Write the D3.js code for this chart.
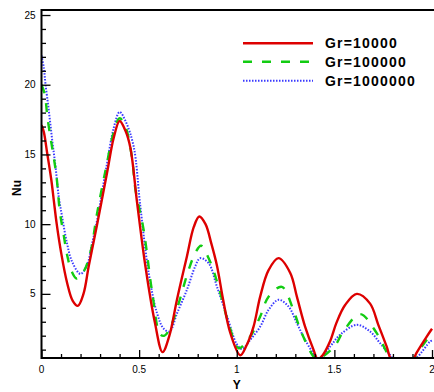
<!DOCTYPE html>
<html>
<head>
<meta charset="utf-8">
<script src="https://cdn.jsdelivr.net/npm/d3@7"></script>
<style>
  html, body { margin: 0; padding: 0; background: #fff; }
  svg { display: block; font-family: Arial, "Liberation Sans", sans-serif; }
</style>
</head>
<body>
<div id="chart"></div>
<script>
// series labels
const seriesNames = ["Gr=10000", "Gr=100000", "Gr=1000000"];

// Gr=10000
const yRed = [0, 0.012, 0.029, 0.05, 0.063, 0.078, 0.1, 0.131, 0.16, 0.186, 0.215, 0.242, 0.285, 0.336, 0.37, 0.40, 0.43, 0.455, 0.49, 0.532, 0.58, 0.62, 0.655, 0.694, 0.745, 0.78, 0.808, 0.84, 0.87, 0.899, 0.93, 0.967, 1.018, 1.05, 1.086, 1.12, 1.163, 1.214, 1.274, 1.308, 1.35, 1.393, 1.415, 1.44, 1.478, 1.51, 1.555, 1.615, 1.683, 1.725, 1.768, 1.795, 1.85, 1.9, 1.92, 1.973, 2.0];
const nuRed = [17.1, 16.6, 15.1, 13.2, 11.7, 10.0, 8.0, 5.8, 4.5, 4.14, 5.0, 7.0, 10.0, 13.7, 16.2, 17.4, 16.7, 15.5, 11.5, 7.0, 3.0, 0.82, 2.0, 4.6, 7.7, 9.8, 10.55, 10.0, 8.6, 7.0, 4.6, 2.2, 0.6, 1.3, 2.65, 4.8, 6.7, 7.56, 6.5, 4.8, 2.65, 1.0, 0.3, 0.6, 1.6, 2.9, 4.2, 5.0, 4.3, 2.78, 1.22, 0.2, 0, 0.2, 0.75, 1.94, 2.5];

// Gr=100000
const yGreen = [0, 0.017, 0.03, 0.045, 0.058, 0.077, 0.094, 0.114, 0.131, 0.155, 0.18, 0.216, 0.251, 0.285, 0.33, 0.37, 0.40, 0.43, 0.464, 0.481, 0.523, 0.566, 0.608, 0.63, 0.66, 0.702, 0.753, 0.79, 0.817, 0.864, 0.907, 0.958, 1.01, 1.069, 1.12, 1.163, 1.231, 1.29, 1.333, 1.41, 1.45, 1.504, 1.546, 1.632, 1.717, 1.776, 1.8, 1.85, 1.9, 1.913, 1.973, 2.0];
const nuGreen = [20.0, 19.3, 17.7, 16.3, 15.2, 13.4, 10.9, 9.2, 7.8, 6.6, 6.1, 6.6, 8.0, 10.8, 14.0, 16.6, 17.6, 17.0, 14.7, 12.5, 9.6, 5.2, 2.1, 2.0, 2.6, 4.3, 6.7, 8.0, 8.45, 7.3, 5.5, 2.9, 1.1, 1.94, 3.37, 4.8, 5.5, 3.85, 2.18, 0.3, 0.6, 1.3, 2.3, 3.55, 2.18, 0.62, 0.2, 0, 0.2, 0.5, 1.7, 2.1];

// Gr=1000000
const yBlue = [0, 0.012, 0.02, 0.037, 0.055, 0.072, 0.088, 0.106, 0.131, 0.157, 0.2, 0.234, 0.259, 0.285, 0.33, 0.37, 0.40, 0.43, 0.472, 0.506, 0.549, 0.592, 0.626, 0.656, 0.694, 0.745, 0.788, 0.813, 0.856, 0.899, 0.95, 1.0, 1.027, 1.069, 1.12, 1.163, 1.214, 1.265, 1.308, 1.35, 1.4, 1.42, 1.478, 1.529, 1.615, 1.683, 1.734, 1.785, 1.81, 1.87, 1.92, 1.99, 2.0];
const nuBlue = [22.1, 21.2, 20.1, 18.2, 16.0, 14.1, 12.0, 10.5, 8.6, 7.3, 6.43, 7.1, 8.6, 10.3, 13.9, 16.9, 18.05, 17.4, 15.57, 11.3, 6.5, 3.6, 2.5, 2.3, 3.6, 5.3, 7.0, 7.56, 7.2, 5.5, 3.4, 1.4, 1.05, 1.7, 2.65, 3.85, 4.57, 4.1, 2.9, 1.7, 0.6, 0.35, 1.22, 2.06, 2.78, 2.3, 1.46, 0.62, 0.2, 0, 0.4, 1.58, 1.65];

// axis ticks
const xMajor = [0, 0.5, 1, 1.5, 2];
const yMajor = [5, 10, 15, 20, 25];

const W = 434, H = 392;
const plotL = 41.5, plotR = 432, plotT = 10, plotB = 358;

const svg = d3.select("#chart").append("svg")
    .attr("width", W)
    .attr("height", H);

const x = d3.scaleLinear().domain([0, 2]).range([plotL, plotR]);
const y = d3.scaleLinear().domain([0.4, 25.36]).range([plotB, plotT]);

svg.append("clipPath").attr("id", "plot-clip")
   .append("rect")
   .attr("x", plotL).attr("y", plotT)
   .attr("width", W - plotL).attr("height", plotB - plotT);

const series = [
    { name: seriesNames[0], xs: yRed, ys: nuRed, color: "#dd0000", width: 2.4, dash: null },
    { name: seriesNames[1], xs: yGreen, ys: nuGreen, color: "#12cc12", width: 2.4, dash: "9,10" },
    { name: seriesNames[2], xs: yBlue, ys: nuBlue, color: "#3a3aff", width: 2, dash: "1.5,1.5" }
];

const line = d3.line()
    .x(d => x(d[0]))
    .y(d => y(d[1]))
    .curve(d3.curveCatmullRom.alpha(0.5));

// Curves
const plot = svg.append("g").attr("clip-path", "url(#plot-clip)");
series.slice().reverse().forEach(s => {
    plot.append("path")
        .datum(s.xs.map((v, i) => [v, s.ys[i]]))
        .attr("fill", "none")
        .attr("stroke", s.color)
        .attr("stroke-width", s.width)
        .attr("stroke-dasharray", s.dash)
        .attr("d", line);
});

// Frame: left, top and bottom only (right edge runs off the picture)
svg.append("path")
   .attr("d", `M${W},${plotT}H${plotL}V${plotB}H${W}`)
   .attr("fill", "none")
   .attr("stroke", "#000")
   .attr("stroke-width", 2);

// Y axis (ticks inward)
const yAxis = svg.append("g").attr("transform", `translate(${plotL},0)`);
yAxis.call(d3.axisRight(y).tickValues(d3.range(1, 26)).tickSize(4.5).tickFormat(""));
yAxis.selectAll(".tick line")
     .filter(d => yMajor.includes(d))
     .attr("x2", 9);
yAxis.select(".domain").remove();
yAxis.selectAll(".tick line").attr("stroke-width", 1.3);

svg.append("g").selectAll("text")
   .data(yMajor).enter().append("text")
   .attr("x", plotL - 6)
   .attr("y", d => y(d) + 3.5)
   .attr("text-anchor", "end")
   .style("font-size", "10px")
   .text(d => d);

// X axis (ticks inward)
const xAxis = svg.append("g").attr("transform", `translate(0,${plotB})`);
xAxis.call(d3.axisTop(x).tickValues(d3.range(0, 21).map(i => i / 10)).tickSize(4).tickFormat(""));
xAxis.selectAll(".tick line")
     .filter(d => xMajor.some(m => Math.abs(m - d) < 1e-9))
     .attr("y2", -8);
xAxis.select(".domain").remove();
xAxis.selectAll(".tick line").attr("stroke-width", 1.3);

svg.append("g").selectAll("text")
   .data(xMajor).enter().append("text")
   .attr("x", d => x(d))
   .attr("y", plotB + 15)
   .attr("text-anchor", "middle")
   .style("font-size", "10px")
   .text(d => d3.format("~g")(d));

// Axis titles
svg.append("text")
   .attr("x", (plotL + plotR) / 2)
   .attr("y", 389)
   .attr("text-anchor", "middle")
   .style("font-size", "12px")
   .style("font-weight", "bold")
   .text("Y");

svg.append("text")
   .attr("transform", "translate(20.5,188) rotate(-90)")
   .attr("text-anchor", "middle")
   .style("font-size", "12px")
   .style("font-weight", "bold")
   .text("Nu");

// Legend
const legend = svg.append("g");
const legendY = [43.3, 61.7, 80.7];
series.forEach((s, i) => {
    legend.append("line")
        .attr("x1", 243).attr("x2", 313)
        .attr("y1", legendY[i]).attr("y2", legendY[i])
        .attr("stroke", s.color)
        .attr("stroke-width", s.width)
        .attr("stroke-dasharray", s.dash);
    legend.append("text")
        .attr("x", 325)
        .attr("y", legendY[i] + 5)
        .style("font-size", "14px")
        .style("font-weight", "bold")
        .style("letter-spacing", "1.2px")
        .text(s.name);
});
</script>
</body>
</html>
